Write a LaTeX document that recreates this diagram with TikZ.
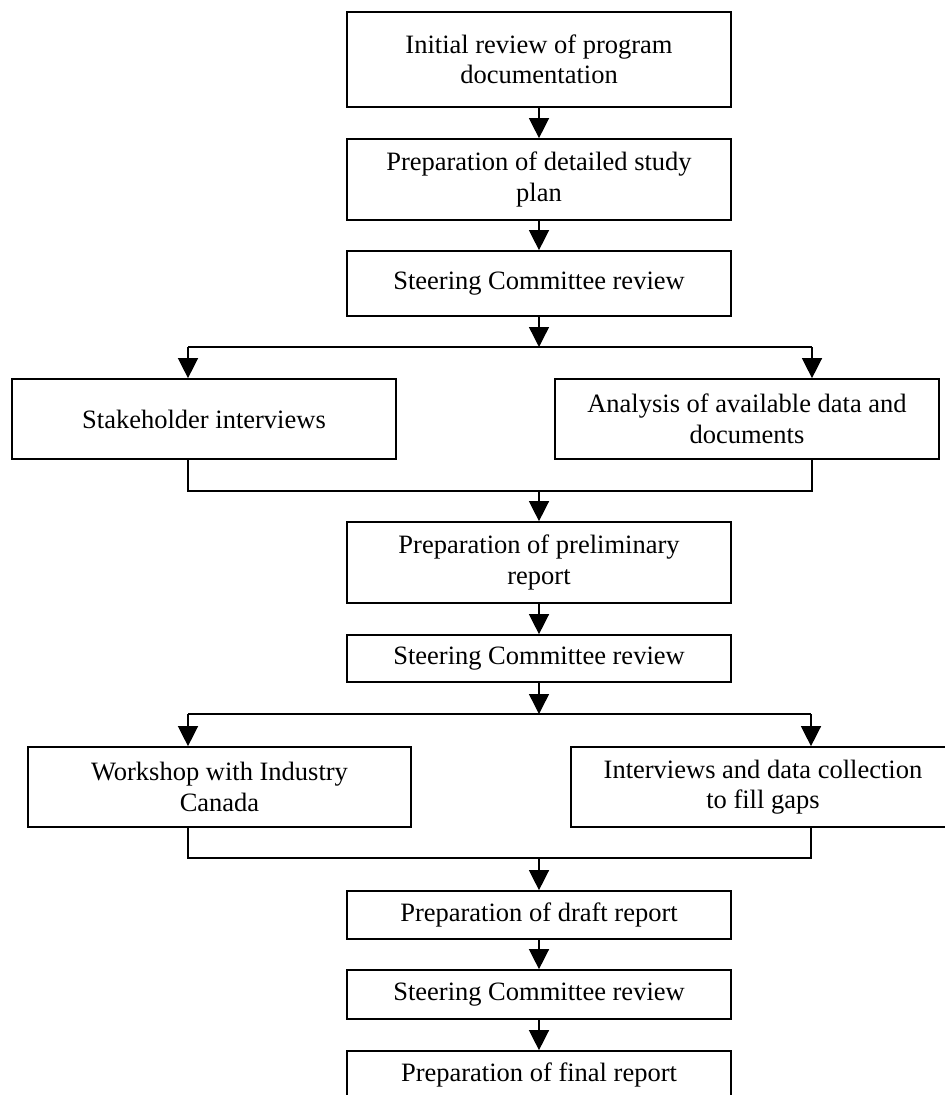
\documentclass[tikz,border=0pt]{standalone}
\usepackage{fontspec}
\setmainfont{Liberation Serif}
\usetikzlibrary{arrows.meta}
\begin{document}
\begin{tikzpicture}[x=1pt,y=1pt,
  stepbox/.style={draw, line width=1.7pt, inner sep=0pt, minimum width=384pt, align=center,
    font=\fontsize{26.5}{30.5}\selectfont},
  conn/.style={line width=1.4pt},
  arr/.style={conn, -{Triangle[width=20pt,length=20pt]}}]
\useasboundingbox (0,0) rectangle (945,-1095);
\clip (0,0) rectangle (945,-1095);
% main column
\node[stepbox, minimum height=95pt] (B1) at (539,-59.5) {Initial review of program\\documentation};
\node[stepbox, minimum height=81pt] (B2) at (539,-179.5) {Preparation of detailed study\\plan};
\node[stepbox, minimum height=65pt] (B3) at (539,-283.5) {Steering Committee review};
\node[stepbox, minimum height=80pt] (L1) at (204,-419) {Stakeholder interviews};
\node[stepbox, minimum height=80pt] (R1) at (747,-419) {Analysis of available data and\\documents};
\node[stepbox, minimum height=81pt] (B4) at (539,-562.5) {Preparation of preliminary\\report};
\node[stepbox, minimum height=47pt] (B5) at (539,-658.5) {Steering Committee review};
\node[stepbox, minimum height=80pt, minimum width=383pt] (L2) at (219.5,-787) {Workshop with Industry\\Canada};
\node[stepbox, minimum height=80pt] (R2) at (763,-787) {Interviews and data collection\\to fill gaps};
\node[stepbox, minimum height=48pt] (B6) at (539,-915) {Preparation of draft report};
\node[stepbox, minimum height=49pt] (B7) at (539,-994.5) {Steering Committee review};
\node[stepbox, minimum height=48pt] (B8) at (539,-1075) {Preparation of final report};
% junction coordinates
\coordinate (s1C) at (539,-347);
\coordinate (s1L) at (188,-347);
\coordinate (s1R) at (812,-347);
\coordinate (m1C) at (539,-491);
\coordinate (m1L) at (188,-491);
\coordinate (m1R) at (812,-491);
\coordinate (s2C) at (539,-714);
\coordinate (s2L) at (188,-714);
\coordinate (s2R) at (811,-714);
\coordinate (m2C) at (539,-858);
\coordinate (m2L) at (188,-858);
\coordinate (m2R) at (811,-858);
% connectors
\draw[arr] (B1.south) -- (B2.north);
\draw[arr] (B2.south) -- (B3.north);
\draw[arr] (B3.south) -- (s1C);
\draw[conn] (s1L) -- (s1R);
\draw[arr] (s1L) -- (s1L |- L1.north);
\draw[arr] (s1R) -- (s1R |- R1.north);
\draw[conn] (m1L |- L1.south) -- (m1L) -- (m1R) -- (m1R |- R1.south);
\draw[arr] (m1C) -- (B4.north);
\draw[arr] (B4.south) -- (B5.north);
\draw[arr] (B5.south) -- (s2C);
\draw[conn] (s2L) -- (s2R);
\draw[arr] (s2L) -- (s2L |- L2.north);
\draw[arr] (s2R) -- (s2R |- R2.north);
\draw[conn] (m2L |- L2.south) -- (m2L) -- (m2R) -- (m2R |- R2.south);
\draw[arr] (m2C) -- (B6.north);
\draw[arr] (B6.south) -- (B7.north);
\draw[arr] (B7.south) -- (B8.north);
\end{tikzpicture}
\end{document}
